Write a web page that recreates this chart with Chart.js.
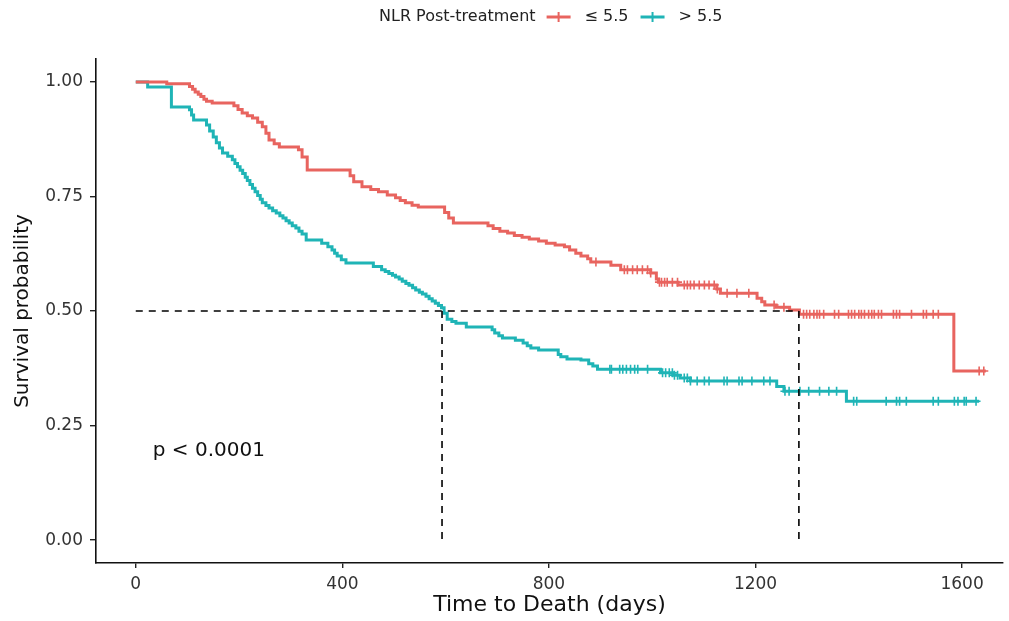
<!DOCTYPE html>
<html>
<head>
<meta charset="utf-8">
<script src="https://cdn.jsdelivr.net/npm/chart.js@4/dist/chart.umd.min.js"></script>
<style>
  html, body { margin: 0; padding: 0; background: #fff; }
  #wrap { width: 1009px; height: 621px; }
</style>
</head>
<body>
<div id="wrap"><canvas id="km" width="1009" height="621"></canvas></div>
<script>
// Kaplan-Meier steps (days, survival probability)
const redTimes = [0, 60, 104, 110, 115, 121, 126, 132, 137, 148, 190, 198, 206, 216, 226, 236, 245, 252, 258, 268, 278, 315, 322, 332, 415, 422, 438, 455, 470, 487, 503, 512, 522, 535, 547, 598, 606, 615, 682, 692, 705, 720, 733, 748, 762, 780, 795, 812, 830, 840, 852, 862, 875, 881, 920, 939, 997, 1008, 1012, 1050, 1125, 1132, 1203, 1212, 1218, 1240, 1266, 1285, 1584];
const redSurv = [1.0, 0.996, 0.990, 0.984, 0.978, 0.973, 0.968, 0.962, 0.958, 0.954, 0.948, 0.940, 0.932, 0.926, 0.921, 0.912, 0.902, 0.888, 0.873, 0.865, 0.858, 0.852, 0.836, 0.808, 0.795, 0.782, 0.771, 0.765, 0.760, 0.753, 0.747, 0.741, 0.736, 0.731, 0.727, 0.715, 0.703, 0.692, 0.686, 0.680, 0.674, 0.670, 0.665, 0.661, 0.657, 0.653, 0.648, 0.644, 0.640, 0.633, 0.626, 0.620, 0.614, 0.607, 0.600, 0.590, 0.583, 0.570, 0.563, 0.557, 0.548, 0.539, 0.528, 0.520, 0.513, 0.508, 0.502, 0.493, 0.369];
const redLast = 1646;
const redCensor = [891, 946, 952, 962, 971, 981, 991, 997, 1014, 1018, 1024, 1029, 1039, 1049, 1062, 1068, 1074, 1081, 1091, 1101, 1110, 1120, 1126, 1145, 1164, 1187, 1236, 1255, 1293, 1299, 1305, 1313, 1319, 1324, 1332, 1353, 1361, 1380, 1386, 1392, 1400, 1405, 1411, 1419, 1425, 1430, 1438, 1444, 1467, 1473, 1479, 1502, 1525, 1531, 1544, 1554, 1633, 1642];

const tealTimes = [0, 23, 69, 104, 108, 112, 137, 143, 150, 156, 162, 168, 178, 187, 192, 197, 202, 207, 212, 216, 221, 226, 231, 236, 241, 245, 252, 258, 265, 272, 279, 285, 291, 297, 303, 310, 316, 322, 330, 360, 372, 380, 385, 390, 398, 407, 460, 476, 483, 490, 497, 503, 510, 516, 523, 529, 536, 542, 549, 555, 562, 568, 574, 580, 586, 592, 597, 603, 612, 620, 640, 690, 695, 703, 710, 735, 750, 758, 765, 780, 818, 823, 835, 862, 877, 885, 894, 1016, 1040, 1054, 1074, 1241, 1255, 1376];
const tealSurv = [1.0, 0.989, 0.945, 0.939, 0.928, 0.917, 0.906, 0.893, 0.880, 0.867, 0.856, 0.845, 0.838, 0.830, 0.822, 0.815, 0.807, 0.800, 0.792, 0.785, 0.776, 0.768, 0.760, 0.752, 0.744, 0.736, 0.730, 0.725, 0.719, 0.714, 0.708, 0.703, 0.697, 0.692, 0.686, 0.681, 0.674, 0.668, 0.655, 0.648, 0.640, 0.633, 0.626, 0.620, 0.612, 0.605, 0.597, 0.590, 0.586, 0.582, 0.578, 0.574, 0.570, 0.565, 0.560, 0.556, 0.551, 0.546, 0.541, 0.537, 0.532, 0.527, 0.522, 0.517, 0.512, 0.507, 0.495, 0.482, 0.477, 0.473, 0.465, 0.459, 0.452, 0.446, 0.441, 0.436, 0.430, 0.424, 0.419, 0.415, 0.405, 0.400, 0.395, 0.393, 0.385, 0.380, 0.373, 0.365, 0.360, 0.354, 0.347, 0.335, 0.325, 0.303];
const tealLast = 1633;
const tealCensor = [918, 921, 937, 943, 950, 958, 966, 972, 991, 1020, 1026, 1033, 1039, 1043, 1049, 1062, 1068, 1074, 1087, 1101, 1110, 1139, 1145, 1168, 1174, 1193, 1216, 1228, 1257, 1265, 1286, 1303, 1324, 1342, 1357, 1390, 1396, 1453, 1473, 1479, 1492, 1544, 1554, 1585, 1592, 1604, 1608, 1627];

const medianDays = [593, 1284];
const xTicks = [0, 400, 800, 1200, 1600];
const yTicks = [0, 0.25, 0.5, 0.75, 1.0];
const groupLabels = ['≤ 5.5', '> 5.5'];
const legendTitle = 'NLR Post-treatment';
const pText = 'p < 0.0001';

const RED = '#E8645F';
const TEAL = '#1FB4B6';
const FONT = "'DejaVu Sans', sans-serif";

function curve(times, surv, last) {
  const pts = times.map((t, i) => ({ x: t, y: surv[i] }));
  pts.push({ x: last, y: surv[surv.length - 1] });
  return pts;
}

function survAt(times, surv, t) {
  let s = surv[0];
  for (let i = 0; i < times.length; i++) {
    if (times[i] <= t) s = surv[i];
  }
  return s;
}

function censorPts(days, times, surv) {
  return days.map((d) => ({ x: d, y: survAt(times, surv, d) }));
}

const dash = {
  type: 'line',
  borderColor: '#000',
  borderWidth: 1.6,
  borderDash: [7, 6],
  pointRadius: 0,
  fill: false,
};

const datasets = [
  { ...dash, data: [{ x: 0, y: 0.5 }, { x: medianDays[1], y: 0.5 }] },
  { ...dash, data: [{ x: medianDays[0], y: 0.5 }, { x: medianDays[0], y: 0 }] },
  { ...dash, data: [{ x: medianDays[1], y: 0.5 }, { x: medianDays[1], y: 0 }] },
  {
    type: 'scatter',
    data: censorPts(redCensor, redTimes, redSurv),
    pointStyle: 'cross',
    pointRadius: 4.5,
    borderColor: RED,
    borderWidth: 1.6,
  },
  {
    type: 'scatter',
    data: censorPts(tealCensor, tealTimes, tealSurv),
    pointStyle: 'cross',
    pointRadius: 4.5,
    borderColor: TEAL,
    borderWidth: 1.6,
  },
  {
    type: 'line',
    label: groupLabels[0],
    data: curve(redTimes, redSurv, redLast),
    stepped: 'before',
    borderColor: RED,
    borderWidth: 3,
    pointRadius: 0,
    fill: false,
  },
  {
    type: 'line',
    label: groupLabels[1],
    data: curve(tealTimes, tealSurv, tealLast),
    stepped: 'before',
    borderColor: TEAL,
    borderWidth: 3,
    pointRadius: 0,
    fill: false,
  },
];

// legend strip and p-value, drawn on top of the chart
const extras = {
  id: 'extras',
  afterDraw(chart) {
    const ctx = chart.ctx;
    const { x, y } = chart.scales;
    ctx.save();

    ctx.font = '20px ' + FONT;
    ctx.fillStyle = '#111';
    ctx.textBaseline = 'middle';
    ctx.textAlign = 'left';
    ctx.fillText(pText, x.getPixelForValue(33), y.getPixelForValue(0.195));

    ctx.font = '16px ' + FONT;
    ctx.fillStyle = '#222';
    const ly = 17;
    let lx = 379;
    ctx.fillText(legendTitle, lx, ly);
    lx += ctx.measureText(legendTitle).width + 11;
    [RED, TEAL].forEach((col, i) => {
      ctx.strokeStyle = col;
      ctx.lineWidth = 3;
      ctx.beginPath();
      ctx.moveTo(lx, ly);
      ctx.lineTo(lx + 24, ly);
      ctx.stroke();
      ctx.lineWidth = 2;
      ctx.beginPath();
      ctx.moveTo(lx + 12, ly - 5);
      ctx.lineTo(lx + 12, ly + 5);
      ctx.stroke();
      lx += 24 + 14;
      ctx.fillText(groupLabels[i], lx, ly);
      lx += ctx.measureText(groupLabels[i]).width + 12;
    });
    ctx.restore();
  },
};

new Chart(document.getElementById('km'), {
  type: 'scatter',
  data: { datasets },
  options: {
    responsive: false,
    animation: false,
    layout: { padding: { top: 59, right: 2, left: 0, bottom: 0 } },
    plugins: {
      legend: { display: false },
      tooltip: { enabled: false },
    },
    scales: {
      x: {
        type: 'linear',
        min: -77,
        max: 1679,
        afterFit: (s) => { s.height = 58; },
        afterBuildTicks: (s) => { s.ticks = xTicks.map((v) => ({ value: v })); },
        border: { display: true, color: '#111', width: 1.6 },
        grid: { drawOnChartArea: false, tickLength: 5, color: '#222', lineWidth: 1.4 },
        ticks: {
          font: { family: FONT, size: 17 },
          color: '#333',
          padding: 6,
          maxRotation: 0,
          callback: (v) => String(v),
        },
        title: {
          display: true,
          text: 'Time to Death (days)',
          font: { family: FONT, size: 22 },
          color: '#111',
          padding: { top: 0, bottom: 3 },
        },
      },
      y: {
        type: 'linear',
        min: -0.05,
        max: 1.05,
        afterFit: (s) => { s.width = 96; },
        afterBuildTicks: (s) => { s.ticks = yTicks.map((v) => ({ value: v })); },
        border: { display: true, color: '#111', width: 1.6 },
        grid: { drawOnChartArea: false, tickLength: 6, color: '#222', lineWidth: 1.4 },
        ticks: {
          font: { family: FONT, size: 17 },
          color: '#333',
          padding: 7,
          callback: (v) => v.toFixed(2),
        },
        title: {
          display: true,
          text: 'Survival probability',
          font: { family: FONT, size: 20 },
          color: '#111',
          padding: { top: 11, bottom: 0 },
        },
      },
    },
  },
  plugins: [extras],
});
</script>
</body>
</html>
